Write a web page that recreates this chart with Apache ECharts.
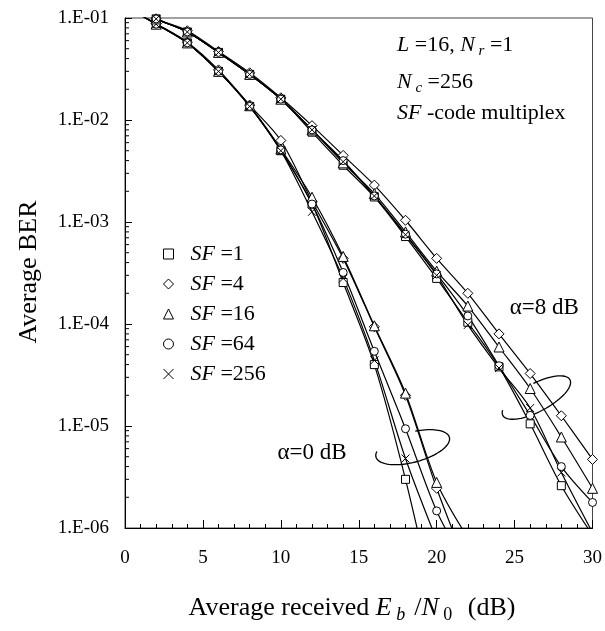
<!DOCTYPE html>
<html>
<head>
<meta charset="utf-8">
<title>Average BER vs Eb/N0</title>
<script src="https://cdn.jsdelivr.net/npm/echarts@6/dist/echarts.min.js"></script>
<style>
    html, body { margin: 0; padding: 0; background: #fff; }
    #main { width: 605px; height: 631px; }
</style>
</head>
<body>
<div id="main"></div>
<script type="text/javascript">
    // Eb/N0 (dB) sample points
    var snr = [0, 2, 4, 6, 8, 10, 12, 14, 16, 18, 20, 22, 24, 26, 28, 30];
    var sfNames = ['SF=1', 'SF=4', 'SF=16', 'SF=64', 'SF=256'];
    var yTickLabels = ['1.E-06', '1.E-05', '1.E-04', '1.E-03', '1.E-02', '1.E-01'];

    // alpha = 0 dB
    var a0_sf1   = [0.13, 0.087, 0.057, 0.030, 0.0136, 0.0050, 0.0015, 2.55e-4, 4.0e-5, 3.0e-6, 1.4e-7];
    var a0_sf4   = [0.13, 0.088, 0.058, 0.031, 0.0140, 0.0063, 0.0016, 4.4e-4, 9.4e-5, 2.0e-5, 2.45e-6, 4.0e-7];
    var a0_sf16  = [0.13, 0.087, 0.057, 0.030, 0.0138, 0.0052, 0.00175, 4.6e-4, 9.6e-5, 2.1e-5, 2.8e-6, 8.0e-7];
    var a0_sf64  = [0.13, 0.087, 0.057, 0.030, 0.0136, 0.0051, 0.0015, 3.2e-4, 5.4e-5, 9.4e-6, 1.47e-6, 4.0e-7];
    var a0_sf256 = [0.13, 0.087, 0.057, 0.030, 0.0136, 0.0050, 0.00126, 2.8e-4, 4.4e-5, 4.8e-6, 7.6e-7];

    // alpha = 8 dB
    var a8_sf1   = [0.14, 0.098, 0.073, 0.046, 0.028, 0.0160, 0.0076, 0.0036, 0.00176, 7.2e-4, 2.8e-4, 1.04e-4, 3.8e-5, 1.05e-5, 2.6e-6, 8.5e-7];
    var a8_sf4   = [0.14, 0.098, 0.075, 0.047, 0.029, 0.0165, 0.0088, 0.0045, 0.0023, 1.04e-3, 4.4e-4, 2.0e-4, 8.0e-5, 3.27e-5, 1.26e-5, 4.7e-6];
    var a8_sf16  = [0.14, 0.098, 0.073, 0.046, 0.028, 0.0160, 0.0080, 0.0038, 0.0019, 8.0e-4, 3.3e-4, 1.5e-4, 5.95e-5, 2.33e-5, 7.8e-6, 2.45e-6];
    var a8_sf64  = [0.14, 0.098, 0.073, 0.046, 0.028, 0.0160, 0.0080, 0.0040, 0.0018, 7.6e-4, 3.1e-4, 1.2e-4, 3.9e-5, 1.27e-5, 4.0e-6, 1.78e-6];
    var a8_sf256 = [0.14, 0.098, 0.073, 0.046, 0.028, 0.0160, 0.0080, 0.0039, 0.0018, 7.5e-4, 3.0e-4, 9.8e-5, 3.7e-5, 1.5e-5, 3.5e-6, 9.0e-7];

    var symbols = ['rect', 'diamond', 'triangle', 'circle', 'path://M0,0L10,10M10,0L0,10'];
    var symbolSizes = [8, 10, 10, 8, 8];
    var serif = 'Liberation Serif';

    function pairs(vals) {
        var out = [];
        for (var i = 0; i < vals.length; i++) out.push([snr[i], vals[i]]);
        return out;
    }

    function mkSeries(k, vals) {
        return {
            name: sfNames[k],
            type: 'line',
            data: pairs(vals),
            smooth: 0.3,
            symbol: symbols[k],
            symbolSize: symbolSizes[k],
            showAllSymbol: true,
            lineStyle: {color: '#000', width: 1.2},
            itemStyle: {color: '#fff', borderColor: '#000', borderWidth: 1},
            emphasis: {disabled: true},
            z: 3
        };
    }

    var groups = [
        [a0_sf1, a0_sf4, a0_sf16, a0_sf64, a0_sf256],
        [a8_sf1, a8_sf4, a8_sf16, a8_sf64, a8_sf256]
    ];
    var series = [];
    groups.forEach(function (g) {
        g.forEach(function (vals, k) { series.push(mkSeries(k, vals)); });
    });

    var myChart = echarts.init(document.getElementById('main'));
    var option = {
        animation: false,
        backgroundColor: '#fff',
        textStyle: {fontFamily: serif, color: '#000'},
        grid: {left: 125, right: 12, top: 18, bottom: 103, show: true, borderColor: '#444', borderWidth: 1},
        legend: {
            orient: 'vertical',
            left: 158,
            top: 238,
            itemWidth: 10,
            itemHeight: 10,
            itemGap: 8,
            selectedMode: false,
            data: sfNames.map(function (n, k) { return {name: n, icon: symbols[k]}; }),
            itemStyle: {color: '#fff', borderColor: '#000', borderWidth: 1},
            formatter: function (n) { return '{i|SF}{n| =' + n.split('=')[1] + '}'; },
            textStyle: {
                padding: [0, 0, 0, 12],
                rich: {
                    i: {fontFamily: serif, fontSize: 22, fontStyle: 'italic', color: '#000'},
                    n: {fontFamily: serif, fontSize: 22, color: '#000'}
                }
            }
        },
        xAxis: {
            type: 'value',
            min: 0, max: 30, interval: 5,
            axisLine: {lineStyle: {color: '#000', width: 1}},
            axisTick: {inside: true, length: 8, lineStyle: {color: '#000'}},
            minorTick: {show: true, splitNumber: 5, length: 4, lineStyle: {color: '#000'}},
            splitLine: {show: false},
            axisLabel: {margin: 21, fontSize: 19, fontFamily: serif, color: '#000'}
        },
        yAxis: {
            type: 'log',
            logBase: 10,
            min: 1e-6, max: 0.1, interval: 1,
            axisLine: {show: true, lineStyle: {color: '#000', width: 1}},
            axisTick: {show: true, inside: true, length: 7, lineStyle: {color: '#000'}},
            splitLine: {show: false},
            axisLabel: {
                margin: 16, fontSize: 19, fontFamily: serif, color: '#000',
                formatter: function (v) { return yTickLabels[Math.round(Math.log10(v)) + 6]; }
            }
        },
        series: series
    };
    myChart.setOption(option);

    // 注释：标题、文字、椭圆
    function px(x, y) { return myChart.convertToPixel({gridIndex: 0}, [x, y]); }

    function ellipsePts(c, a, b, rotDeg, t0, t1) {
        var pts = [], th = rotDeg * Math.PI / 180;
        for (var t = t0; t <= t1; t += 4) {
            var r = t * Math.PI / 180, ex = a * Math.cos(r), ey = b * Math.sin(r);
            pts.push([c[0] + ex * Math.cos(th) - ey * Math.sin(th), c[1] - (ex * Math.sin(th) + ey * Math.cos(th))]);
        }
        return pts;
    }

    var graphics = [];
    // minor log ticks on the y axis
    for (var e = -6; e <= -2; e++) {
        for (var m = 2; m <= 9; m++) {
            var p = px(0, m * Math.pow(10, e));
            graphics.push({type: 'line', shape: {x1: p[0], y1: p[1], x2: p[0] + 4, y2: p[1]}, style: {stroke: '#000', lineWidth: 1}, silent: true});
        }
    }

    function richSet(size, sub) {
        return {
            n: {fontFamily: serif, fontSize: size, lineHeight: size + 6, color: '#000'},
            i: {fontFamily: serif, fontSize: size, lineHeight: size + 6, fontStyle: 'italic', color: '#000'},
            s: {fontFamily: serif, fontSize: sub, lineHeight: sub, verticalAlign: 'bottom', fontStyle: 'italic', color: '#000'},
            s0: {fontFamily: serif, fontSize: sub, lineHeight: sub, verticalAlign: 'bottom', color: '#000'}
        };
    }

    function txt(x, y, text, size, align) {
        return {
            type: 'text', x: x, y: y, silent: true,
            style: {text: text, rich: richSet(size, Math.round(size * 0.68)), align: align || 'left', verticalAlign: 'middle', fill: '#000'}
        };
    }

    graphics.push(txt(397, 45, '{i|L}{n| =16, }{i|N}{s| r}{n| =1}', 22));
    graphics.push(txt(397, 82, '{i|N}{s| c}{n| =256}', 22));
    graphics.push(txt(397, 113, '{i|SF}{n| -code multiplex}', 22));

    // axis titles
    graphics.push(txt(352, 608, '{n|Average received }{i|E}{s| b  }{n|/}{i|N}{s0| 0  }{n| (dB)}', 26, 'center'));
    graphics.push({
        type: 'text', x: 29, y: 272, rotation: Math.PI / 2, silent: true,
        style: {text: 'Average BER', font: '26px "Liberation Serif"', fill: '#000', align: 'center', verticalAlign: 'middle'}
    });

    // alpha labels
    var pa0 = px(12.0, 5.4e-6), pa8 = px(26.9, 1.43e-4);
    graphics.push(txt(pa0[0], pa0[1], '{n|α=0 dB}', 23, 'center'));
    graphics.push(txt(pa8[0], pa8[1], '{n|α=8 dB}', 23, 'center'));

    // ellipses round the curve bundles
    graphics.push({type: 'polyline', silent: true, shape: {points: ellipsePts(px(18.46, 6.2e-6), 38, 15, 15, 160, 440)}, style: {stroke: '#000', lineWidth: 1.3, fill: null}});
    graphics.push({type: 'polyline', silent: true, shape: {points: ellipsePts(px(26.4, 1.9e-5), 38, 14, 28, 160, 445)}, style: {stroke: '#000', lineWidth: 1.3, fill: null}});

    myChart.setOption({graphic: graphics});
</script>
</body>
</html>
